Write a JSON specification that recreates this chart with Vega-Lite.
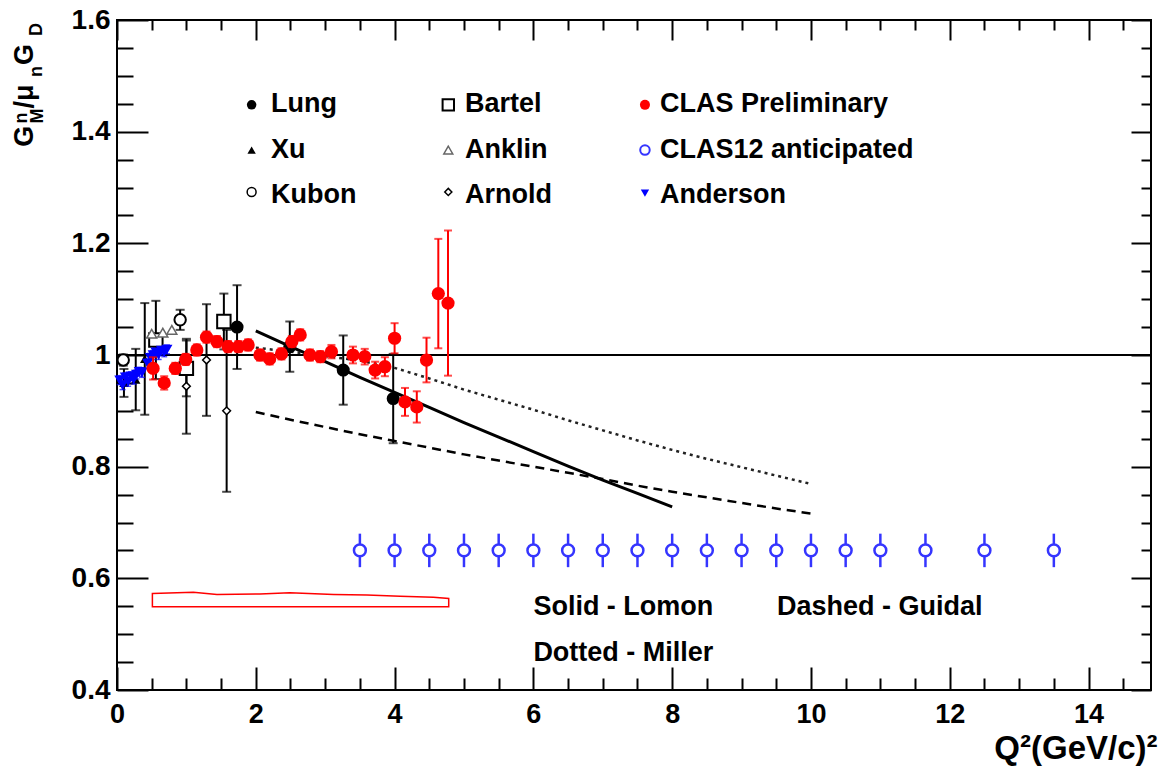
{
  "$schema": "https://vega.github.io/schema/vega-lite/v6.json",
  "width": 1034,
  "height": 670,
  "autosize": "none",
  "padding": {"left": 117, "top": 20, "right": 10, "bottom": 77},
  "background": "white",
  "config": {
    "view": {"stroke": "black", "strokeWidth": 2},
    "axis": {
      "labelFont": "Liberation Sans", "labelFontWeight": "bold", "labelColor": "black",
      "titleFont": "Liberation Sans", "titleFontWeight": "bold", "titleColor": "black",
      "grid": false, "domain": false, "tickColor": "black", "tickWidth": 2,
      "labelOverlap": false, "labelFlush": false, "titlePadding": 0
    },
    "text": {"font": "Liberation Sans", "fontWeight": "bold", "color": "black"}
  },
  "datasets": {
    "band": [
      {"x": 0.51, "y": 0.573, "lo": 0.549}, {"x": 1.10, "y": 0.575, "lo": 0.549},
      {"x": 1.44, "y": 0.571, "lo": 0.549}, {"x": 2.06, "y": 0.572, "lo": 0.549},
      {"x": 2.49, "y": 0.574, "lo": 0.549}, {"x": 3.12, "y": 0.571, "lo": 0.549},
      {"x": 3.60, "y": 0.570, "lo": 0.549}, {"x": 4.08, "y": 0.568, "lo": 0.549},
      {"x": 4.56, "y": 0.566, "lo": 0.549}, {"x": 4.78, "y": 0.564, "lo": 0.549}
    ],
    "unity": [{"x": 0, "y": 1}, {"x": 14.9, "y": 1}],
    "lomon": [
      {"x": 2.0, "y": 1.043}, {"x": 2.5, "y": 1.015}, {"x": 3.0, "y": 0.988}, {"x": 3.5, "y": 0.960},
      {"x": 4.0, "y": 0.933}, {"x": 4.5, "y": 0.906}, {"x": 5.0, "y": 0.879}, {"x": 5.5, "y": 0.853},
      {"x": 6.0, "y": 0.827}, {"x": 6.5, "y": 0.801}, {"x": 7.0, "y": 0.776}, {"x": 7.5, "y": 0.752},
      {"x": 8.0, "y": 0.728}
    ],
    "guidal": [
      {"x": 2.0, "y": 0.898}, {"x": 2.5, "y": 0.884}, {"x": 3.0, "y": 0.871}, {"x": 3.5, "y": 0.858},
      {"x": 4.0, "y": 0.846}, {"x": 4.5, "y": 0.834}, {"x": 5.0, "y": 0.822}, {"x": 5.5, "y": 0.811},
      {"x": 6.0, "y": 0.800}, {"x": 6.5, "y": 0.789}, {"x": 7.0, "y": 0.778}, {"x": 7.5, "y": 0.766},
      {"x": 8.0, "y": 0.755}, {"x": 8.5, "y": 0.745}, {"x": 9.0, "y": 0.735}, {"x": 9.5, "y": 0.725},
      {"x": 10.0, "y": 0.716}
    ],
    "miller": [
      {"x": 2.0, "y": 1.013}, {"x": 2.5, "y": 1.006}, {"x": 3.0, "y": 0.998}, {"x": 3.5, "y": 0.990},
      {"x": 4.0, "y": 0.977}, {"x": 4.5, "y": 0.958}, {"x": 5.0, "y": 0.938}, {"x": 5.5, "y": 0.920},
      {"x": 6.0, "y": 0.902}, {"x": 6.5, "y": 0.883}, {"x": 7.0, "y": 0.865}, {"x": 7.5, "y": 0.847},
      {"x": 8.0, "y": 0.830}, {"x": 8.5, "y": 0.814}, {"x": 9.0, "y": 0.799}, {"x": 9.5, "y": 0.784},
      {"x": 10.0, "y": 0.769}
    ],
    "clas12": [
      {"x": 3.5, "y": 0.65, "e": 0.03}, {"x": 4.0, "y": 0.65, "e": 0.03}, {"x": 4.5, "y": 0.65, "e": 0.03},
      {"x": 5.0, "y": 0.65, "e": 0.03}, {"x": 5.5, "y": 0.65, "e": 0.03}, {"x": 6.0, "y": 0.65, "e": 0.03},
      {"x": 6.5, "y": 0.65, "e": 0.03}, {"x": 7.0, "y": 0.65, "e": 0.03}, {"x": 7.5, "y": 0.65, "e": 0.03},
      {"x": 8.0, "y": 0.65, "e": 0.03}, {"x": 8.5, "y": 0.65, "e": 0.03}, {"x": 9.0, "y": 0.65, "e": 0.03},
      {"x": 9.5, "y": 0.65, "e": 0.03}, {"x": 10.0, "y": 0.65, "e": 0.03}, {"x": 10.5, "y": 0.65, "e": 0.03},
      {"x": 11.0, "y": 0.65, "e": 0.03}, {"x": 11.65, "y": 0.65, "e": 0.03}, {"x": 12.5, "y": 0.65, "e": 0.03},
      {"x": 13.5, "y": 0.65, "e": 0.03}
    ],
    "anderson": [
      {"x": 0.04, "y": 0.955, "e": 0.008}, {"x": 0.08, "y": 0.946, "e": 0.008}, {"x": 0.12, "y": 0.960, "e": 0.008},
      {"x": 0.16, "y": 0.952, "e": 0.008}, {"x": 0.20, "y": 0.962, "e": 0.008}, {"x": 0.24, "y": 0.956, "e": 0.008},
      {"x": 0.28, "y": 0.965, "e": 0.008}, {"x": 0.32, "y": 0.970, "e": 0.008}, {"x": 0.36, "y": 0.968, "e": 0.008},
      {"x": 0.44, "y": 0.985, "e": 0.008}, {"x": 0.48, "y": 0.995, "e": 0.008}, {"x": 0.52, "y": 1.000, "e": 0.008},
      {"x": 0.56, "y": 1.005, "e": 0.008}, {"x": 0.60, "y": 1.000, "e": 0.008}, {"x": 0.64, "y": 1.008, "e": 0.008},
      {"x": 0.68, "y": 1.005, "e": 0.008}, {"x": 0.72, "y": 1.010, "e": 0.008}
    ],
    "xu": [
      {"x": 0.10, "y": 0.950, "e": 0.025}, {"x": 0.27, "y": 0.956, "e": 0.055}, {"x": 0.40, "y": 0.993, "e": 0.100}
    ],
    "kubon": [
      {"x": 0.09, "y": 0.991, "e": 0.010}, {"x": 0.91, "y": 1.063, "e": 0.018}
    ],
    "anklin": [
      {"x": 0.50, "y": 1.038, "e": 0.008}, {"x": 0.66, "y": 1.040, "e": 0.008}, {"x": 0.79, "y": 1.045, "e": 0.008}
    ],
    "bartel": [
      {"x": 0.56, "y": 1.027, "e": 0.070}, {"x": 1.00, "y": 0.976, "e": 0.050}, {"x": 1.54, "y": 1.060, "e": 0.050}
    ],
    "arnold": [
      {"x": 1.00, "y": 0.944, "e": 0.085}, {"x": 1.29, "y": 0.991, "e": 0.100}, {"x": 1.58, "y": 0.900, "e": 0.145}
    ],
    "lung": [
      {"x": 1.73, "y": 1.050, "e": 0.075}, {"x": 2.49, "y": 1.015, "e": 0.045},
      {"x": 3.26, "y": 0.973, "e": 0.062}, {"x": 3.98, "y": 0.922, "e": 0.080}
    ],
    "clas": [
      {"x": 0.52, "y": 0.976, "e": 0.020}, {"x": 0.68, "y": 0.950, "e": 0.012}, {"x": 0.84, "y": 0.976, "e": 0.010},
      {"x": 0.99, "y": 0.992, "e": 0.010}, {"x": 1.15, "y": 1.009, "e": 0.010}, {"x": 1.29, "y": 1.032, "e": 0.010},
      {"x": 1.44, "y": 1.024, "e": 0.010}, {"x": 1.60, "y": 1.015, "e": 0.010}, {"x": 1.75, "y": 1.015, "e": 0.010},
      {"x": 1.89, "y": 1.018, "e": 0.010}, {"x": 2.06, "y": 1.000, "e": 0.010}, {"x": 2.20, "y": 0.993, "e": 0.010},
      {"x": 2.37, "y": 1.002, "e": 0.010}, {"x": 2.52, "y": 1.024, "e": 0.010}, {"x": 2.64, "y": 1.036, "e": 0.010},
      {"x": 2.78, "y": 1.000, "e": 0.010}, {"x": 2.93, "y": 0.997, "e": 0.010}, {"x": 3.09, "y": 1.006, "e": 0.012},
      {"x": 3.40, "y": 1.000, "e": 0.015}, {"x": 3.57, "y": 0.997, "e": 0.014}, {"x": 3.72, "y": 0.973, "e": 0.015},
      {"x": 3.86, "y": 0.979, "e": 0.017}, {"x": 4.00, "y": 1.030, "e": 0.027}, {"x": 4.15, "y": 0.916, "e": 0.025},
      {"x": 4.32, "y": 0.907, "e": 0.028}, {"x": 4.46, "y": 0.991, "e": 0.040}, {"x": 4.63, "y": 1.110, "e": 0.098},
      {"x": 4.77, "y": 1.093, "e": 0.130}
    ],
    "labels": [
      {"label": "Lung", "x": 2.22, "y": 1.435},
      {"label": "Xu", "x": 2.22, "y": 1.352},
      {"label": "Kubon", "x": 2.22, "y": 1.273},
      {"label": "Bartel", "x": 5.014, "y": 1.435},
      {"label": "Anklin", "x": 5.014, "y": 1.352},
      {"label": "Arnold", "x": 5.014, "y": 1.273},
      {"label": "CLAS Preliminary", "x": 7.824, "y": 1.435},
      {"label": "CLAS12 anticipated", "x": 7.824, "y": 1.352},
      {"label": "Anderson", "x": 7.824, "y": 1.273},
      {"label": "Solid - Lomon", "x": 6.0, "y": 0.534},
      {"label": "Dashed - Guidal", "x": 9.51, "y": 0.534},
      {"label": "Dotted - Miller", "x": 6.0, "y": 0.452}
    ],
    "ytitle_main": [
      {"label": "G", "x": -1.206, "y": 1.373},
      {"label": "/μ", "x": -1.206, "y": 1.4415},
      {"label": "G", "x": -1.206, "y": 1.5194}
    ],
    "ytitle_script": [
      {"label": "n", "x": -1.301, "y": 1.4146},
      {"label": "M", "x": -1.062, "y": 1.4146},
      {"label": "n", "x": -1.085, "y": 1.4979},
      {"label": "D", "x": -1.081, "y": 1.5713}
    ]
  },
  "encoding": {
    "x": {"field": "x", "type": "quantitative", "scale": {"domain": [0, 14.9], "nice": false, "zero": false}, "axis": null},
    "y": {"field": "y", "type": "quantitative", "scale": {"domain": [0.4, 1.6], "nice": false, "zero": false}, "axis": null}
  },
  "layer": [
    {
      "data": {"name": "band"},
      "mark": {"type": "area", "fillOpacity": 0, "stroke": "#ff0000", "strokeWidth": 1.5},
      "encoding": {
        "x": {"field": "x", "type": "quantitative", "scale": {"domain": [0, 14.9], "nice": false, "zero": false},
          "axis": {"orient": "bottom", "values": [0, 2, 4, 6, 8, 10, 12, 14], "ticks": false,
            "labelFontSize": 27, "labelPadding": 11,
            "title": "Q²(GeV/c)²", "titleFontSize": 33, "titleAnchor": "end", "titleAlign": "right",
            "titleBaseline": "alphabetic", "titleX": 1040, "titleY": 68}},
        "y": {"field": "y", "type": "quantitative", "scale": {"domain": [0.4, 1.6], "nice": false, "zero": false},
          "axis": {"orient": "left", "values": [0.4, 0.6, 0.8, 1, 1.2, 1.4, 1.6], "format": "~g", "ticks": false,
            "labelFontSize": 28, "labelPadding": 7, "title": null}},
        "y2": {"field": "lo"}
      }
    },
    {
      "data": {"name": "unity"},
      "mark": {"type": "line", "color": "black", "strokeWidth": 2},
      "encoding": {
        "x": {"field": "x", "type": "quantitative", "scale": {"domain": [0, 14.9], "nice": false, "zero": false},
          "axis": {"orient": "bottom", "values": [0, 2, 4, 6, 8, 10, 12, 14], "labels": false, "tickSize": -23, "title": null}},
        "y": {"field": "y", "type": "quantitative", "scale": {"domain": [0.4, 1.6], "nice": false, "zero": false},
          "axis": {"orient": "left", "values": [0.4, 0.6, 0.8, 1, 1.2, 1.4, 1.6], "labels": false, "tickSize": -31, "title": null}}
      }
    },
    {
      "data": {"name": "lomon"},
      "mark": {"type": "line", "color": "black", "strokeWidth": 3},
      "encoding": {
        "x": {"field": "x", "type": "quantitative", "scale": {"domain": [0, 14.9], "nice": false, "zero": false},
          "axis": {"orient": "bottom", "values": [0.5, 1, 1.5, 2.5, 3, 3.5, 4.5, 5, 5.5, 6.5, 7, 7.5, 8.5, 9, 9.5, 10.5, 11, 11.5, 12.5, 13, 13.5, 14.5],
            "labels": false, "tickSize": -12, "title": null}},
        "y": {"field": "y", "type": "quantitative", "scale": {"domain": [0.4, 1.6], "nice": false, "zero": false},
          "axis": {"orient": "left", "values": [0.45, 0.5, 0.55, 0.65, 0.7, 0.75, 0.85, 0.9, 0.95, 1.05, 1.1, 1.15, 1.25, 1.3, 1.35, 1.45, 1.5, 1.55],
            "labels": false, "tickSize": -16, "title": null}}
      }
    },
    {
      "data": {"name": "guidal"},
      "mark": {"type": "line", "color": "black", "strokeWidth": 2.5, "strokeDash": [9, 6]},
      "encoding": {
        "x": {"field": "x", "type": "quantitative", "scale": {"domain": [0, 14.9], "nice": false, "zero": false},
          "axis": {"orient": "top", "values": [0, 2, 4, 6, 8, 10, 12, 14], "labels": false, "tickSize": -20, "title": null}},
        "y": {"field": "y", "type": "quantitative", "scale": {"domain": [0.4, 1.6], "nice": false, "zero": false},
          "axis": {"orient": "right", "values": [0.4, 0.6, 0.8, 1, 1.2, 1.4, 1.6], "labels": false, "tickSize": -20, "title": null}}
      }
    },
    {
      "data": {"name": "miller"},
      "mark": {"type": "line", "color": "#222222", "strokeWidth": 2.5, "strokeDash": [3, 4]},
      "encoding": {
        "x": {"field": "x", "type": "quantitative", "scale": {"domain": [0, 14.9], "nice": false, "zero": false},
          "axis": {"orient": "top", "values": [0.5, 1, 1.5, 2.5, 3, 3.5, 4.5, 5, 5.5, 6.5, 7, 7.5, 8.5, 9, 9.5, 10.5, 11, 11.5, 12.5, 13, 13.5, 14.5],
            "labels": false, "tickSize": -10, "title": null}},
        "y": {"field": "y", "type": "quantitative", "scale": {"domain": [0.4, 1.6], "nice": false, "zero": false},
          "axis": {"orient": "right", "values": [0.45, 0.5, 0.55, 0.65, 0.7, 0.75, 0.85, 0.9, 0.95, 1.05, 1.1, 1.15, 1.25, 1.3, 1.35, 1.45, 1.5, 1.55],
            "labels": false, "tickSize": -10, "title": null}}
      }
    },
    {
      "data": {"name": "clas12"},
      "mark": {"type": "errorbar", "ticks": false, "thickness": 2.5, "color": "#3535ff"},
      "encoding": {"yError": {"field": "e"}}
    },
    {
      "data": {"name": "clas12"},
      "mark": {"type": "point", "shape": "circle", "filled": false, "fill": "white", "fillOpacity": 1, "stroke": "#3535ff", "strokeWidth": 2.5, "size": 140, "opacity": 1}
    },
    {
      "data": {"name": "xu"},
      "mark": {"type": "errorbar", "ticks": {"size": 9}, "thickness": 2, "color": "black"},
      "encoding": {"yError": {"field": "e"}}
    },
    {
      "data": {"name": "xu"},
      "mark": {"type": "point", "shape": "triangle-up", "filled": true, "color": "black", "size": 90, "opacity": 1}
    },
    {
      "data": {"name": "bartel"},
      "mark": {"type": "errorbar", "ticks": {"size": 9}, "thickness": 2, "color": "black"},
      "encoding": {"yError": {"field": "e"}}
    },
    {
      "data": {"name": "arnold"},
      "mark": {"type": "errorbar", "ticks": {"size": 9}, "thickness": 2, "color": "black"},
      "encoding": {"yError": {"field": "e"}}
    },
    {
      "data": {"name": "kubon"},
      "mark": {"type": "errorbar", "ticks": {"size": 9}, "thickness": 2, "color": "black"},
      "encoding": {"yError": {"field": "e"}}
    },
    {
      "data": {"name": "lung"},
      "mark": {"type": "errorbar", "ticks": {"size": 9}, "thickness": 2, "color": "black"},
      "encoding": {"yError": {"field": "e"}}
    },
    {
      "data": {"name": "anderson"},
      "mark": {"type": "errorbar", "ticks": {"size": 6}, "thickness": 1.5, "color": "#0000ff"},
      "encoding": {"yError": {"field": "e"}}
    },
    {
      "data": {"name": "bartel"},
      "mark": {"type": "point", "shape": "square", "filled": false, "fill": "white", "fillOpacity": 1, "stroke": "black", "strokeWidth": 2, "size": 180, "opacity": 1}
    },
    {
      "data": {"name": "arnold"},
      "mark": {"type": "point", "shape": "diamond", "filled": false, "fill": "white", "fillOpacity": 1, "stroke": "black", "strokeWidth": 1.5, "size": 60, "opacity": 1}
    },
    {
      "data": {"name": "kubon"},
      "mark": {"type": "point", "shape": "circle", "filled": false, "fill": "white", "fillOpacity": 1, "stroke": "black", "strokeWidth": 2, "size": 130, "opacity": 1}
    },
    {
      "data": {"name": "anklin"},
      "mark": {"type": "point", "shape": "triangle-up", "filled": false, "fill": "white", "fillOpacity": 1, "stroke": "#666666", "strokeWidth": 1.5, "size": 100, "opacity": 1}
    },
    {
      "data": {"name": "lung"},
      "mark": {"type": "point", "shape": "circle", "filled": true, "color": "black", "size": 170, "opacity": 1}
    },
    {
      "data": {"name": "anderson"},
      "mark": {"type": "point", "shape": "triangle-down", "filled": true, "color": "#0000ff", "size": 120, "opacity": 1}
    },
    {
      "data": {"name": "clas"},
      "mark": {"type": "errorbar", "ticks": {"size": 8}, "thickness": 2, "color": "#ff0000"},
      "encoding": {"yError": {"field": "e"}}
    },
    {
      "data": {"name": "clas"},
      "mark": {"type": "point", "shape": "circle", "filled": true, "color": "#ff0000", "size": 175, "opacity": 1}
    },

    {"data": {"values": [{"x": 1.94, "y": 1.448}]}, "mark": {"type": "point", "shape": "circle", "filled": true, "color": "black", "size": 90, "opacity": 1}},
    {"data": {"values": [{"x": 1.94, "y": 1.367}]}, "mark": {"type": "point", "shape": "triangle-up", "filled": true, "color": "black", "size": 70, "opacity": 1}},
    {"data": {"values": [{"x": 1.94, "y": 1.292}]}, "mark": {"type": "point", "shape": "circle", "filled": false, "stroke": "black", "strokeWidth": 1.5, "size": 80, "opacity": 1}},
    {"data": {"values": [{"x": 4.774, "y": 1.448}]}, "mark": {"type": "point", "shape": "square", "filled": false, "stroke": "black", "strokeWidth": 2, "size": 130, "opacity": 1}},
    {"data": {"values": [{"x": 4.774, "y": 1.367}]}, "mark": {"type": "point", "shape": "triangle-up", "filled": false, "stroke": "#666666", "strokeWidth": 1.5, "size": 80, "opacity": 1}},
    {"data": {"values": [{"x": 4.774, "y": 1.292}]}, "mark": {"type": "point", "shape": "diamond", "filled": false, "stroke": "black", "strokeWidth": 1.5, "size": 50, "opacity": 1}},
    {"data": {"values": [{"x": 7.608, "y": 1.448}]}, "mark": {"type": "point", "shape": "circle", "filled": true, "color": "#ff0000", "size": 100, "opacity": 1}},
    {"data": {"values": [{"x": 7.608, "y": 1.367}]}, "mark": {"type": "point", "shape": "circle", "filled": false, "stroke": "#3535ff", "strokeWidth": 2, "size": 90, "opacity": 1}},
    {"data": {"values": [{"x": 7.608, "y": 1.29}]}, "mark": {"type": "point", "shape": "triangle-down", "filled": true, "color": "#0000ff", "size": 70, "opacity": 1}},

    {
      "data": {"name": "labels"},
      "mark": {"type": "text", "align": "left", "baseline": "alphabetic", "fontSize": 27},
      "encoding": {"text": {"field": "label"}}
    },
    {
      "data": {"name": "ytitle_main"},
      "mark": {"type": "text", "angle": 270, "align": "left", "baseline": "alphabetic", "fontSize": 27},
      "encoding": {"text": {"field": "label"}}
    },
    {
      "data": {"name": "ytitle_script"},
      "mark": {"type": "text", "angle": 270, "align": "left", "baseline": "alphabetic", "fontSize": 18},
      "encoding": {"text": {"field": "label"}}
    }
  ],
  "resolve": {"axis": {"x": "independent", "y": "independent"}}
}
